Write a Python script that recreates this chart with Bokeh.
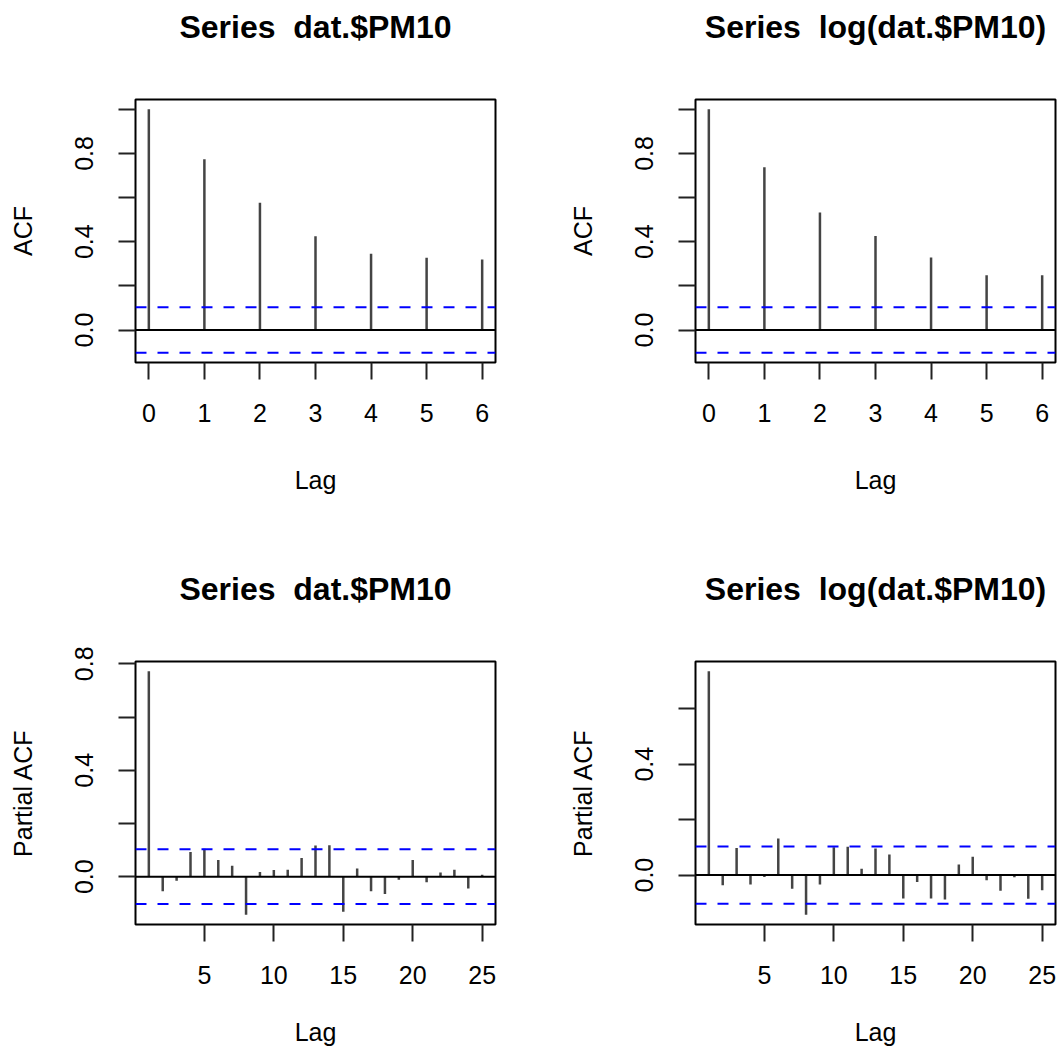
from bokeh.plotting import figure
from bokeh.layouts import gridplot
from bokeh.models import Range1d, FixedTicker, Span, LinearAxis
from bokeh.embed import file_html
from bokeh.resources import INLINE

# ---- data ----
acf_lags = [0, 1, 2, 3, 4, 5, 6]
acf_pm10 = [1.0, 0.774, 0.577, 0.425, 0.346, 0.327, 0.319]
acf_logpm10 = [1.0, 0.737, 0.532, 0.426, 0.328, 0.248, 0.248]

pacf_lags = list(range(1, 26))
pacf_pm10 = [0.772, -0.055, -0.015, 0.093, 0.105, 0.063, 0.041, -0.143, 0.018, 0.025,
             0.026, 0.070, 0.117, 0.118, -0.132, 0.031, -0.055, -0.065, -0.011, 0.063,
             -0.021, 0.016, 0.026, -0.044, 0.007]
pacf_logpm10 = [0.735, -0.037, 0.098, -0.034, -0.007, 0.132, -0.049, -0.143, -0.034, 0.100,
                0.102, 0.023, 0.096, 0.074, -0.084, -0.025, -0.084, -0.088, 0.038, 0.066,
                -0.019, -0.056, -0.008, -0.085, -0.055]
clim_pm10 = 0.103
clim_logpm10 = 0.103

# R pads with two spaces; the second one is a no-break space so it is not collapsed
title_pm10 = "Series \u00a0dat.$PM10"
title_logpm10 = "Series \u00a0log(dat.$PM10)"

acf_xticks = [0, 1, 2, 3, 4, 5, 6]
pacf_xticks = [5, 10, 15, 20, 25]
acf_yticks = [0.0, 0.2, 0.4, 0.6, 0.8, 1.0]
pacf1_yticks = [0.0, 0.2, 0.4, 0.6, 0.8]
pacf2_yticks = [0.0, 0.2, 0.4, 0.6]
shown_ylabels = {0.0: "0.0", 0.4: "0.4", 0.8: "0.8"}

FONT = "Liberation Sans"


def ext(lo, hi):
    d = (hi - lo) * 0.04
    return lo - d, hi + d


def panel(title, lags, vals, clim, ylabel, xticks, yticks, bl, br, bt, bb, lag_standoff):
    x0, x1 = ext(min(lags), max(lags))
    y0, y1 = ext(min(min(vals), -clim), max(max(vals), clim))
    p = figure(width=529, height=528, output_backend="svg", toolbar_location=None,
               x_range=Range1d(x0, x1), y_range=Range1d(y0, y1),
               min_border_left=bl, min_border_right=br,
               min_border_top=bt, min_border_bottom=bb)
    p.grid.visible = False
    p.background_fill_color = "white"
    p.border_fill_color = "white"
    p.outline_line_color = "black"
    p.outline_line_width = 2

    xa = p.below[0]
    ya = p.left[0]
    for ax in (xa, ya):
        ax.axis_line_color = None
        ax.major_tick_out = 17
        ax.major_tick_in = 0
        ax.major_tick_line_width = 2
        ax.major_tick_line_color = "#222222"
        ax.minor_tick_line_color = None
        ax.major_label_text_font = FONT
        ax.major_label_text_font_size = "25px"
        ax.major_label_text_color = "black"
        ax.axis_label_text_font = FONT
        ax.axis_label_text_font_size = "25px"
        ax.axis_label_text_font_style = "normal"
        ax.axis_label_text_color = "black"

    xa.ticker = FixedTicker(ticks=xticks)
    xa.axis_label = "Lag"
    xa.major_label_standoff = 24
    xa.axis_label_standoff = lag_standoff

    ya.ticker = FixedTicker(ticks=yticks)
    ya.major_label_overrides = {t: shown_ylabels.get(t, "") for t in yticks}
    ya.major_label_orientation = "vertical"
    ya.axis_label = ylabel
    ya.major_label_standoff = 25
    ya.axis_label_standoff = 36

    # main title, drawn as the label of a bare axis above the frame (centred on it)
    tax = LinearAxis(ticker=FixedTicker(ticks=[]), axis_label=title,
                     axis_line_color=None, major_tick_line_color=None,
                     minor_tick_line_color=None, major_tick_out=0, major_tick_in=0,
                     major_label_text_font_size="0px",
                     axis_label_text_font=FONT, axis_label_text_font_size="32px",
                     axis_label_text_font_style="bold", axis_label_text_color="black",
                     axis_label_standoff=55)
    p.add_layout(tax, "above")

    p.segment(x0=lags, y0=[0] * len(lags), x1=lags, y1=vals,
              line_color="#444444", line_width=2.5)
    p.add_layout(Span(location=0, dimension="width", line_color="black", line_width=2))
    for c in (clim, -clim):
        p.add_layout(Span(location=c, dimension="width", line_color="#0000FF",
                          line_width=2, line_dash="11 11"))
    return p


p1 = panel(title_pm10, acf_lags, acf_pm10, clim_pm10, "ACF", acf_xticks, acf_yticks,
           135, 34, 99, 166, 41)
p2 = panel(title_logpm10, acf_lags, acf_logpm10, clim_logpm10, "ACF", acf_xticks, acf_yticks,
           166, 3, 99, 166, 41)
p3 = panel(title_pm10, pacf_lags, pacf_pm10, clim_pm10, "Partial ACF", pacf_xticks, pacf1_yticks,
           135, 34, 133, 132, 31)
p4 = panel(title_logpm10, pacf_lags, pacf_logpm10, clim_logpm10, "Partial ACF", pacf_xticks,
           pacf2_yticks, 166, 3, 133, 132, 31)

grid = gridplot([[p1, p2], [p3, p4]], toolbar_location=None)

open("out.html", "w").write(file_html(grid, INLINE))
